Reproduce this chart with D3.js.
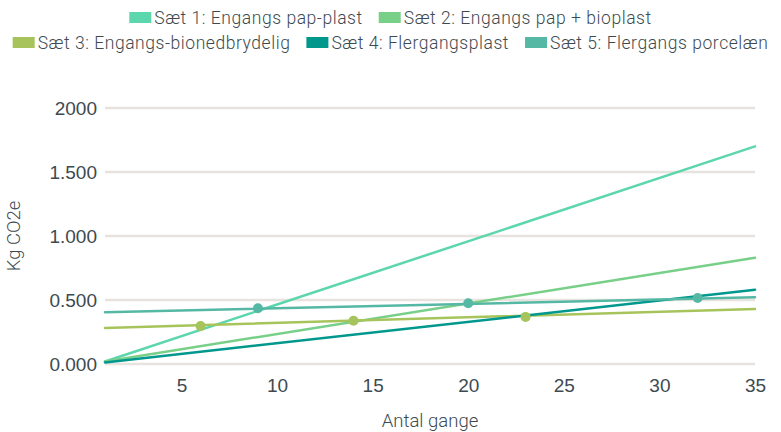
<!DOCTYPE html>
<html>
<head>
<meta charset="utf-8">
<title>Kg CO2e pr. antal gange</title>
<script src="https://d3js.org/d3.v7.min.js"></script>
<style>
  body { margin: 0; background: #fff; font-family: "Roboto", sans-serif; }
  text { fill: #3d4a50; font-weight: 300; }
  .grid line { stroke: #e7e4df; stroke-width: 2.5; }
  .axis text { font-size: 19px; }
  .axis path, .axis line { display: none; }
  .legend text { font-size: 17.5px; letter-spacing: 0.55px; }
  .title { font-size: 18.5px; }
</style>
</head>
<body>
<script>
// data
var seriesNames = ["Sæt 1: Engangs pap-plast", "Sæt 2: Engangs pap + bioplast",
                   "Sæt 3: Engangs-bionedbrydelig", "Sæt 4: Flergangsplast", "Sæt 5: Flergangs porcelæn"];
var seriesColors = ["#5cd6ad", "#78cf88", "#a6c45b", "#00978d", "#55b8a5"];
var xValues = [1, 35];
var sæt1 = [20, 1700];
var sæt2 = [20, 830];
var sæt3 = [282, 430];
var sæt4 = [12, 580];
var sæt5 = [405, 521];
var seriesValues = [sæt1, sæt2, sæt3, sæt4, sæt5];
// intersection markers: [x, y, series index for colour]
var markers = [[6, 296, 2], [9, 435, 4], [14, 338, 2], [20, 474, 4], [23, 368, 2], [32, 516, 4]];
var yTicks = [0, 500, 1000, 1500, 2000];
var yTickLabels = ["0.000", "0.500", "1.000", "1.500", "2000"];
var xTicks = [5, 10, 15, 20, 25, 30, 35];

var width = 781, height = 432;
var margin = {top: 108, right: 26, bottom: 68, left: 105};

var svg = d3.select("body").append("svg")
    .attr("width", width)
    .attr("height", height);

var x = d3.scaleLinear().domain([1, 35]).range([margin.left, width - margin.right]);
var y = d3.scaleLinear().domain([0, 2000]).range([height - margin.bottom, margin.top]);

// gridlines
svg.append("g").attr("class", "grid")
  .selectAll("line").data(yTicks).enter().append("line")
    .attr("x1", x(1)).attr("x2", x(35))
    .attr("y1", function(d) { return y(d); })
    .attr("y2", function(d) { return y(d); });

// y axis
svg.append("g").attr("class", "axis")
    .attr("transform", "translate(" + (margin.left - 5) + ",0)")
    .call(d3.axisLeft(y).tickValues(yTicks).tickSize(0)
      .tickFormat(function(d, i) { return yTickLabels[i]; }))
    .selectAll("text").attr("dy", "0.35em");

// x axis
svg.append("g").attr("class", "axis")
    .attr("transform", "translate(0," + (height - margin.bottom + 11) + ")")
    .call(d3.axisBottom(x).tickValues(xTicks).tickSize(0).tickFormat(d3.format("d")));

// axis titles
svg.append("text").attr("class", "title")
    .attr("x", x(18)).attr("y", 427)
    .attr("text-anchor", "middle")
    .text("Antal gange");
svg.append("text").attr("class", "title")
    .attr("transform", "translate(20," + y(1000) + ") rotate(-90)")
    .attr("text-anchor", "middle")
    .text("Kg CO2e");

// lines
var line = d3.line()
    .x(function(d, i) { return x(xValues[i]); })
    .y(function(d) { return y(d); });

svg.append("g").selectAll("path").data(seriesValues).enter().append("path")
    .attr("d", line)
    .attr("fill", "none")
    .attr("stroke", function(d, i) { return seriesColors[i]; })
    .attr("stroke-width", 2.5)
    .attr("stroke-linecap", "round");

// markers
svg.append("g").selectAll("circle").data(markers).enter().append("circle")
    .attr("cx", function(d) { return x(d[0]); })
    .attr("cy", function(d) { return y(d[1]); })
    .attr("r", 5)
    .attr("fill", function(d) { return seriesColors[d[2]]; });

// legend, two centered rows
var legendRows = [[0, 1], [2, 3, 4]];
var rowY = [18, 43];
var legend = svg.append("g").attr("class", "legend");
legendRows.forEach(function(row, r) {
  var g = legend.append("g");
  var cx = 0;
  row.forEach(function(si, k) {
    g.append("rect")
      .attr("x", cx).attr("y", rowY[r] - 6)
      .attr("width", 22).attr("height", 11)
      .attr("fill", seriesColors[si]);
    var t = g.append("text")
      .attr("x", cx + 25).attr("y", rowY[r])
      .attr("dy", "0.35em")
      .text(seriesNames[si]);
    cx += 25 + t.node().getComputedTextLength() + 16;
  });
  var w = cx - 16;
  g.attr("transform", "translate(" + ((width - w) / 2) + ",0)");
});
</script>
</body>
</html>
